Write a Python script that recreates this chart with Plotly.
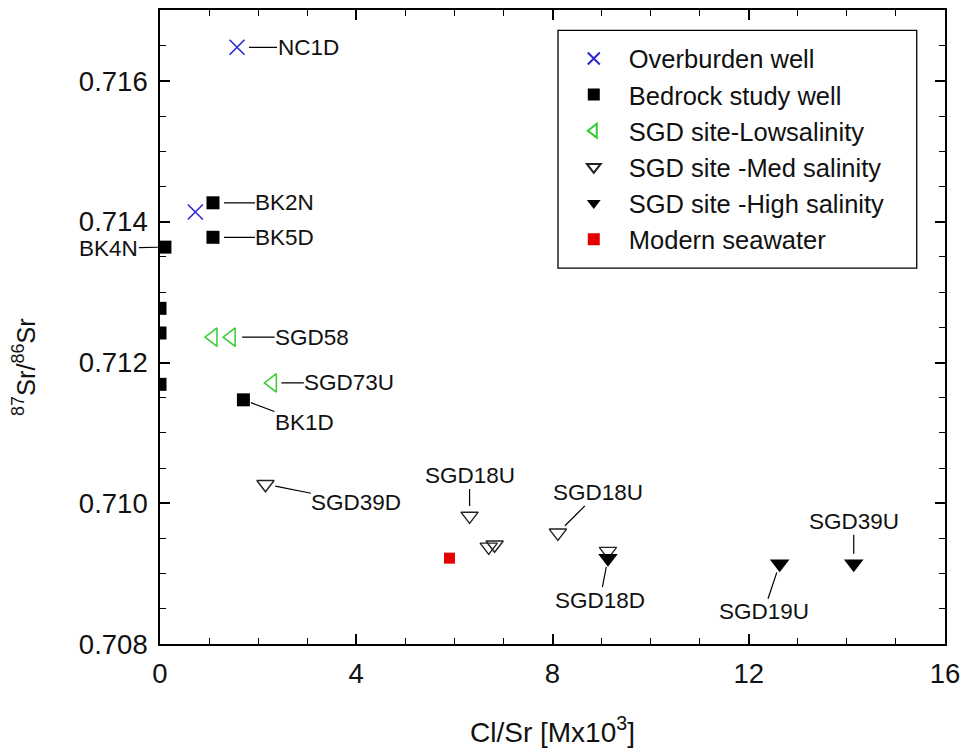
import plotly.graph_objects as go

# ---- data ----
overburden_x = [1.57, 0.72]
overburden_y = [0.71648, 0.71414]
overburden_lbl = ["NC1D", ""]

bedrock_x = [1.08, 1.08, 0.10, 0.0, 0.0, 0.0, 1.70]
bedrock_y = [0.71427, 0.71378, 0.71364, 0.71277, 0.71242, 0.71169, 0.71147]
bedrock_lbl = ["BK2N", "BK5D", "BK4N", "", "", "", "BK1D"]

low_x = [1.08, 1.45, 2.29]
low_y = [0.71236, 0.71236, 0.71171]
low_lbl = ["", "SGD58", "SGD73U"]

med_x = [2.15, 6.31, 6.70, 6.82, 8.11, 9.13]
med_y = [0.71027, 0.70982, 0.70938, 0.70941, 0.70958, 0.70932]
med_lbl = ["SGD39D", "SGD18U", "", "", "SGD18U", ""]

high_x = [9.13, 12.63, 14.14]
high_y = [0.70922, 0.70914, 0.70914]
high_lbl = ["SGD18D", "SGD19U", "SGD39U"]

sea_x = [5.90]
sea_y = [0.70922]

x_ticks = [0, 4, 8, 12, 16]
y_ticks = [0.708, 0.710, 0.712, 0.714, 0.716]

FONT = "Liberation Sans, Arial, sans-serif"
TXT = "#111111"

fig = go.Figure()
fig.add_trace(go.Scatter(x=overburden_x, y=overburden_y, mode="markers", name="Overburden well",
                         marker=dict(symbol="x-thin", size=15, line=dict(color="#2a2ad0", width=1.6))))
fig.add_trace(go.Scatter(x=bedrock_x, y=bedrock_y, mode="markers", name="Bedrock study well",
                         marker=dict(symbol="square", size=13, color="black")))
fig.add_trace(go.Scatter(x=low_x, y=low_y, mode="markers", name="SGD site-Lowsalinity",
                         marker=dict(symbol="triangle-left-open", size=16, color="#33cc33",
                                     line=dict(width=1.5))))
fig.add_trace(go.Scatter(x=med_x, y=med_y, mode="markers", name="SGD site -Med salinity",
                         marker=dict(symbol="triangle-down-open", size=15, color="#222222",
                                     line=dict(width=1.4))))
fig.add_trace(go.Scatter(x=high_x, y=high_y, mode="markers", name="SGD site -High salinity",
                         marker=dict(symbol="triangle-down", size=17, color="black")))
fig.add_trace(go.Scatter(x=sea_x, y=sea_y, mode="markers", name="Modern seawater",
                         marker=dict(symbol="square", size=11, color="#e60000")))

# label offsets (pixels) per label text occurrence: (ax, ay, standoff)
offsets = {
    ("NC1D", 0): (71, 0, 12),
    ("BK2N", 0): (72, 0, 11),
    ("BK5D", 0): (72, 0, 11),
    ("BK4N", 0): (-56, 1, 7),
    ("BK1D", 0): (61, 23, 8),
    ("SGD58", 0): (81, 0, 11),
    ("SGD73U", 0): (77, 0, 9),
    ("SGD39D", 0): (91, 18, 10),
    ("SGD18U", 0): (0, -40, 10),
    ("SGD18U", 1): (40, -40, 10),
    ("SGD18D", 0): (-8, 42, 9),
    ("SGD19U", 0): (-16, 48, 9),
    ("SGD39U", 0): (0, -42, 10),
}
seen = {}
for xs, ys, lbls in [(overburden_x, overburden_y, overburden_lbl),
                     (bedrock_x, bedrock_y, bedrock_lbl),
                     (low_x, low_y, low_lbl),
                     (med_x, med_y, med_lbl),
                     (high_x, high_y, high_lbl)]:
    for xv, yv, lb in zip(xs, ys, lbls):
        if not lb:
            continue
        k = seen.get(lb, 0)
        seen[lb] = k + 1
        ax, ay, so = offsets[(lb, k)]
        fig.add_annotation(x=xv, y=yv, text=lb, showarrow=True, arrowhead=0, arrowwidth=1.2,
                           arrowcolor="black", ax=ax, ay=ay, standoff=so, borderpad=0,
                           font=dict(family=FONT, size=22.5, color=TXT))

axis_common = dict(showline=True, linecolor="black", linewidth=1.6, mirror="ticks",
                   ticks="inside", ticklen=10, tickwidth=1.5, tickcolor="black",
                   showgrid=False, zeroline=False, automargin=False,
                   tickfont=dict(family=FONT, size=27.5, color=TXT))

fig.update_xaxes(range=[0, 16], tickvals=x_ticks, ticktext=[str(v) for v in x_ticks],
                 minor=dict(dtick=1, ticks="inside", ticklen=6, tickwidth=1.3, tickcolor="black", showgrid=False),
                 ticklabelstandoff=4,
                 **axis_common)
fig.update_yaxes(range=[0.708, 0.71701], tickvals=y_ticks, ticktext=[f"{v:.3f}" for v in y_ticks],
                 minor=dict(dtick=0.0005, tick0=0.708, ticks="inside", ticklen=6, tickwidth=1.3,
                            tickcolor="black", showgrid=False),
                 ticklabelstandoff=5,
                 **axis_common)

# axis titles as paper annotations
fig.add_annotation(xref="paper", yref="paper", x=0.5, y=-0.1356, xanchor="center", yanchor="middle",
                   text="Cl/Sr [Mx10<sup>3</sup>]", showarrow=False,
                   font=dict(family=FONT, size=28, color=TXT))
fig.add_annotation(xref="paper", yref="paper", x=-0.1732, y=0.437, xanchor="center", yanchor="middle",
                   text="<sup>87</sup>Sr/<sup>86</sup>Sr", textangle=-90, showarrow=False,
                   font=dict(family=FONT, size=25.5, color=TXT))

fig.add_shape(type="rect", xref="paper", yref="paper", x0=0.507, x1=0.964, y0=0.593, y1=0.968,
              line=dict(color="black", width=1.3), fillcolor="rgba(0,0,0,0)")

fig.update_layout(
    width=964, height=748,
    margin=dict(l=160, r=19, t=10, b=104),
    paper_bgcolor="white", plot_bgcolor="white",
    font=dict(family=FONT, color=TXT),
    showlegend=True,
    legend=dict(x=0.508, y=0.96, xanchor="left", yanchor="top",
                bgcolor="rgba(0,0,0,0)", borderwidth=0,
                font=dict(family=FONT, size=25.5, color=TXT),
                itemsizing="constant", itemwidth=60, tracegroupgap=0),
)

fig.write_html("out.html", config={"displayModeBar": False},
               post_script="document.body.style.margin='0';")
